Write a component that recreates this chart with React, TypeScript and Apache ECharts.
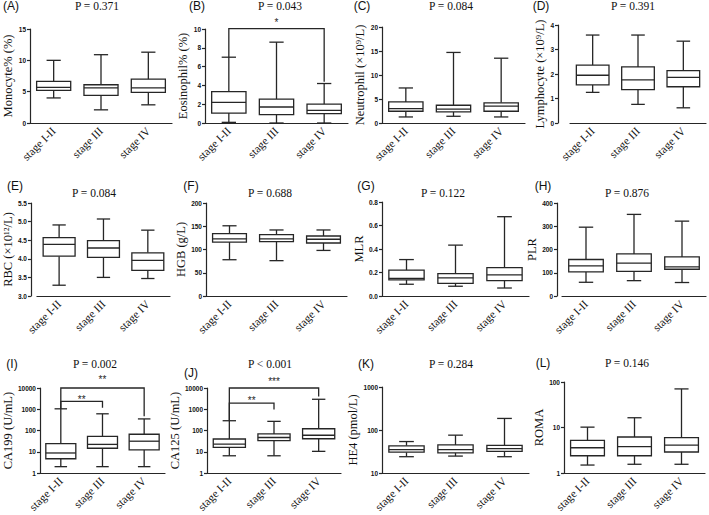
import React, { useEffect, useRef } from "react";
import * as echarts from "echarts";

const stages = ["stage I-II", "stage III", "stage IV"];

// each box: [min, Q1, median, Q3, max]
const monocyte = [[4.0, 5.2, 5.7, 6.65, 10.0], [2.1, 4.4, 5.6, 6.1, 10.9], [2.9, 4.9, 5.6, 7.0, 11.3]];
const eosinophil = [[0.07, 1.06, 2.2, 3.33, 7.0], [0, 0.9, 1.7, 2.55, 8.6], [0, 1.0, 1.35, 2.0, 4.2]];
const neutrophil = [[1.26, 2.45, 3.0, 4.4, 7.3], [1.4, 2.3, 2.9, 3.7, 14.7], [1.26, 2.45, 3.5, 4.2, 13.5]];
const lymphocyte = [[1.25, 1.56, 1.95, 2.36, 3.59], [0.76, 1.36, 1.76, 2.29, 3.59], [0.62, 1.48, 1.86, 2.14, 3.34]];
const rbc = [[3.29, 4.07, 4.39, 4.57, 4.91], [3.5, 4.04, 4.29, 4.49, 5.07], [3.47, 3.69, 3.96, 4.16, 4.77]];
const hgb = [[78, 116, 123, 134, 151], [76, 117, 123, 132, 142], [98, 114, 122, 129, 142]];
const mlr = [[0.1, 0.137, 0.15, 0.22, 0.31], [0.083, 0.108, 0.154, 0.19, 0.433], [0.068, 0.131, 0.18, 0.242, 0.675]];
const plr = [[59, 104, 130, 157, 296], [66, 106, 141, 181, 351], [58, 115, 125, 168, 322]];
const ca199 = [[2, 4.7, 8.8, 24, 1050], [2, 14.7, 22.3, 53, 612], [2, 12.4, 31.5, 67, 352]];
const ca125 = [[6.5, 16, 23, 40, 289], [6.5, 33.5, 47, 69, 270], [10.5, 41, 60, 121, 2950]];
const he4 = [[24, 30.5, 35, 43, 54], [24.8, 29.5, 35, 45, 76], [24, 32, 37, 44, 186]];
const roma = [[1.5, 2.4, 3.6, 5.2, 10.2], [1.56, 2.4, 3.8, 6.2, 16.4], [1.56, 2.9, 4.1, 6.0, 70.5]];

const pValues = ["P = 0.371", "P = 0.043", "P = 0.084", "P = 0.391", "P = 0.084", "P = 0.688", "P = 0.122", "P = 0.876", "P = 0.002", "P < 0.001", "P = 0.284", "P = 0.146"];
const tags = ["(A)", "(B)", "(C)", "(D)", "(E)", "(F)", "(G)", "(H)", "(I)", "(J)", "(K)", "(L)"];
const yNames = ["Monocyte% (%)", "Eosinophil% (%)", "Neutrophil (×10⁹/L)", "Lymphocyte (×10⁹/L)", "RBC (×10¹²/L)", "HGB (g/L)", "MLR", "PLR", "CA199 (U/mL)", "CA125 (U/mL)", "HE4 (pmol/L)", "ROMA"];

// significance brackets: [fromCat, toCat, leftLegEnd, top, rightLegEnd, starLevel]
const eosBrackets = [[0, 2, 7.0, 10.05, 4.4, 10.7]];
const eosStars = ["*"];
const ca199Brackets = [[0, 2, 1050, 10000, 465, 24500], [0, 1, 1050, 2350, 1180, 3000]];
const ca199Stars = ["**", "**"];
const ca125Brackets = [[0, 2, 289, 10000, 3980, 20000], [0, 1, 289, 1950, 970, 2570]];
const ca125Stars = ["***", "**"];

const SERIF = "'Liberation Serif', 'Times New Roman', serif";
const SANS = "'Liberation Sans', Arial, sans-serif";
const INK = "#262626";

const panels = [
  { data: monocyte, type: "value", min: 0, max: 15, interval: 5, dec: 0, g: [30, 29, 142, 94], off: 0, ng: 16, tag: [11, 6], p: [97, 6] },
  { data: eosinophil, type: "value", min: 0, max: 10, interval: 2, dec: 0, g: [205, 29, 143, 94], off: 0, ng: 11, tag: [197, 6], p: [280, 6], br: eosBrackets, st: eosStars },
  { data: neutrophil, type: "value", min: 0, max: 20, interval: 5, dec: 0, g: [382, 27, 143, 96], off: 0, ng: 14, tag: [362, 6], p: [451, 6] },
  { data: lymphocyte, type: "value", min: 0, max: 4, interval: 1, dec: 0, g: [570, 25, 136, 98], off: 12, ng: 10, tag: [541, 6], p: [633, 6] },
  { data: rbc, type: "value", min: 3, max: 5.5, interval: 0.5, dec: 1, g: [36, 203, 134, 93], off: 6, ng: 15, tag: [15, 186], p: [94, 193] },
  { data: hgb, type: "value", min: 0, max: 200, interval: 50, dec: 0, g: [206, 203, 141, 93], off: 0, ng: 14, tag: [191, 186], p: [270, 193] },
  { data: mlr, type: "value", min: 0, max: 0.8, interval: 0.2, dec: 1, g: [382, 202, 147, 94], off: 0, ng: 14, tag: [366, 186], p: [443, 193] },
  { data: plr, type: "value", min: 0, max: 400, interval: 100, dec: 0, g: [562, 203, 144, 93], off: 5, ng: 14, tag: [543, 186], p: [627, 193] },
  { data: ca199, type: "log", min: 1, max: 10000, dec: 0, g: [31, 388, 134, 89], off: 0, ng: 18, tag: [12, 364], p: [95, 364], br: ca199Brackets, st: ca199Stars },
  { data: ca125, type: "log", min: 1, max: 10000, dec: 0, g: [207, 388, 134, 88], off: 0, ng: 18, tag: [191, 373], p: [270, 364], br: ca125Brackets, st: ca125Stars },
  { data: he4, type: "log", min: 10, max: 1000, dec: 0, g: [382, 387, 147, 89], off: 0, ng: 14, tag: [366, 364], p: [451, 364] },
  { data: roma, type: "log", min: 1, max: 100, dec: 0, g: [564, 382, 141, 93], off: 0, ng: 17, tag: [543, 363], p: [627, 363] },
];

function boxRender(params: any, api: any) {
  const c = api.value(0);
  const v = [1, 2, 3, 4, 5].map((i) => api.value(i));
  const band = api.size([1, 0])[0];
  const bw = band * 0.72;
  const cw = band * 0.3;
  const pts = v.map((val) => api.coord([c, val]));
  const x = pts[2][0];
  const st = { stroke: INK, lineWidth: 1.3, fill: null };
  return {
    type: "group",
    children: [
      { type: "line", shape: { x1: x, y1: pts[4][1], x2: x, y2: pts[3][1] }, style: st },
      { type: "line", shape: { x1: x, y1: pts[1][1], x2: x, y2: pts[0][1] }, style: st },
      { type: "line", shape: { x1: x - cw / 2, y1: pts[4][1], x2: x + cw / 2, y2: pts[4][1] }, style: st },
      { type: "line", shape: { x1: x - cw / 2, y1: pts[0][1], x2: x + cw / 2, y2: pts[0][1] }, style: st },
      { type: "rect", shape: { x: x - bw / 2, y: pts[3][1], width: bw, height: pts[1][1] - pts[3][1] }, style: { stroke: INK, lineWidth: 1.3, fill: "#fff" } },
      { type: "line", shape: { x1: x - bw / 2, y1: pts[2][1], x2: x + bw / 2, y2: pts[2][1] }, style: st },
    ],
  };
}

function makeBracketRender(stars: string[]) {
  return (params: any, api: any) => {
    const c0 = api.value(0), c1 = api.value(1);
    const a = api.coord([c0, api.value(2)]);
    const b = api.coord([c0, api.value(3)]);
    const cc = api.coord([c1, api.value(3)]);
    const d = api.coord([c1, api.value(4)]);
    const s = api.coord([c0, api.value(5)]);
    return {
      type: "group",
      children: [
        { type: "polyline", shape: { points: [a, b, cc, d] }, style: { stroke: INK, lineWidth: 1.3, fill: null } },
        { type: "text", x: (b[0] + cc[0]) / 2, y: s[1], style: { text: stars[params.dataIndex], font: `10px ${SANS}`, fill: INK, align: "center", verticalAlign: "middle" } },
      ],
    };
  };
}

export default function App() {
  const ref = useRef<HTMLDivElement>(null);
  useEffect(() => {
    if (!ref.current) return;
    const chart = echarts.init(ref.current, undefined, { renderer: "svg" });
    const grid: any[] = [];
    const xAxis: any[] = [];
    const yAxis: any[] = [];
    const series: any[] = [];
    const graphic: any[] = [];
    panels.forEach((pn, i) => {
      grid.push({ left: pn.g[0], top: pn.g[1], width: pn.g[2], height: pn.g[3] });
      xAxis.push({
        type: "category", gridIndex: i, data: stages,
        axisLine: { lineStyle: { color: INK, width: 1.2 } },
        axisTick: { alignWithLabel: true, length: 4, lineStyle: { color: INK, width: 1.2 } },
        axisLabel: { rotate: 45, interval: 0, margin: 6, fontFamily: SERIF, fontSize: 11.5, color: "#111" },
        splitLine: { show: false },
      });
      const y: any = {
        type: pn.type, gridIndex: i, min: pn.min, max: pn.max, offset: pn.off,
        name: yNames[i], nameLocation: "middle", nameRotate: 90, nameGap: pn.ng,
        nameTextStyle: { fontFamily: SERIF, fontSize: 12.5, color: "#111" },
        axisLine: { show: true, lineStyle: { color: INK, width: 1.2 } },
        axisTick: { show: true, length: 3, lineStyle: { color: INK, width: 1.2 } },
        axisLabel: { margin: 4, fontFamily: SANS, fontWeight: "bold", fontSize: 6.5, color: "#111",
          formatter: (v: number) => (pn.dec ? v.toFixed(pn.dec) : String(Math.round(v))) },
        splitLine: { show: false },
        minorTick: { show: false },
      };
      if (pn.type === "log") y.logBase = 10; else y.interval = pn.interval;
      yAxis.push(y);
      series.push({
        type: "custom", xAxisIndex: i, yAxisIndex: i, renderItem: boxRender,
        encode: { x: 0, y: [1, 2, 3, 4, 5] },
        data: pn.data.map((b, k) => [k, ...b]),
        clip: false,
      });
      if (pn.br) {
        series.push({
          type: "custom", xAxisIndex: i, yAxisIndex: i, renderItem: makeBracketRender(pn.st as string[]),
          encode: { x: [0, 1], y: [2, 3, 4] },
          data: pn.br, clip: false, z: 3,
        });
      }
      graphic.push({ type: "text", x: pn.tag[0], y: pn.tag[1], style: { text: tags[i], font: `12px ${SANS}`, fill: "#111", align: "center", verticalAlign: "middle" } });
      graphic.push({ type: "text", x: pn.p[0], y: pn.p[1], style: { text: pValues[i], font: `11.5px ${SERIF}`, fill: "#111", align: "center", verticalAlign: "middle" } });
    });
    chart.setOption({ animation: false, backgroundColor: "#fff", grid, xAxis, yAxis, series, graphic });
    return () => chart.dispose();
  }, []);
  return <div ref={ref} style={{ position: "absolute", left: 0, top: 0, width: 709, height: 515 }} />;
}
